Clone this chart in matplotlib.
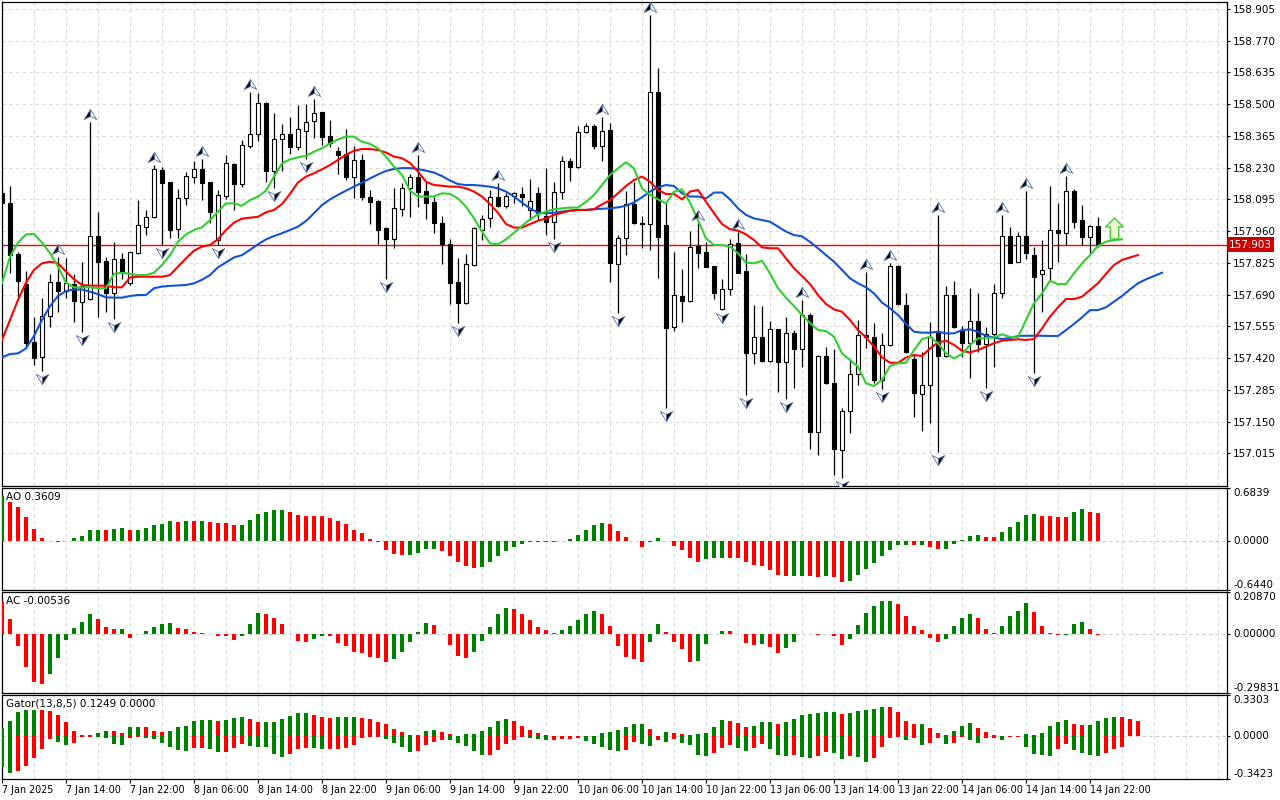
# USDJPY H1 z Alligatorem, fraktalami oraz AO, AC i Gator pod spodem
import numpy as np
import matplotlib
matplotlib.use("Agg")
import matplotlib.pyplot as plt
from matplotlib.path import Path
from matplotlib.transforms import blended_transform_factory

plt.rcParams["font.family"] = ["DejaVu Sans"]

# Świece, 138 słupków godzinowych
opens = [
    158.124, 158.081, 157.863, 157.735, 157.490, 157.426, 157.599, 157.742, 157.707, 157.735,
    157.660, 157.670, 157.939, 157.833, 157.695, 157.841, 157.738, 157.866, 157.976, 158.019,
    158.220, 158.167, 157.968, 158.099, 158.192, 158.223, 158.167, 157.922, 158.111, 158.245,
    158.159, 158.323, 158.372, 158.503, 158.217, 158.350, 158.372, 158.319, 158.387, 158.430,
    158.465, 158.365, 158.301, 158.288, 158.192, 158.263, 158.104, 158.090, 157.975, 157.925,
    158.053, 158.142, 158.189, 158.131, 158.082, 157.993, 157.904, 157.742, 157.653, 157.816,
    157.965, 158.014, 158.104, 158.068, 158.111, 158.116, 158.050, 158.121, 158.024, 157.997,
    158.125, 158.260, 158.231, 158.383, 158.409, 158.323, 158.390, 157.819, 157.929, 158.075,
    157.993, 157.989, 158.550, 157.986, 157.554, 157.685, 157.664, 157.897, 157.870, 157.812,
    157.627, 157.712, 157.908, 157.790, 157.440, 157.511, 157.409, 157.542, 157.402, 157.525,
    157.457, 157.603, 157.104, 157.429, 157.315, 157.029, 157.195, 157.352, 157.518, 157.508,
    157.327, 157.476, 157.812, 157.646, 157.415, 157.266, 157.305, 157.535, 157.429, 157.688,
    157.535, 157.483, 157.578, 157.478, 157.521, 157.695, 157.939, 157.830, 157.939, 157.858,
    157.776, 157.805, 157.965, 157.951, 158.131, 158.007, 157.936, 157.982]
highs = [
    158.142, 158.152, 157.873, 157.792, 157.596, 157.677, 157.778, 157.851, 157.844, 157.778,
    157.830, 158.426, 158.043, 157.851, 157.914, 157.866, 157.872, 158.092, 158.050, 158.241,
    158.234, 158.168, 158.138, 158.213, 158.258, 158.265, 158.168, 158.135, 158.284, 158.251,
    158.348, 158.553, 158.546, 158.508, 158.464, 158.416, 158.444, 158.496, 158.501, 158.520,
    158.466, 158.433, 158.319, 158.393, 158.322, 158.288, 158.135, 158.091, 157.976, 158.142,
    158.166, 158.203, 158.284, 158.170, 158.107, 158.024, 157.925, 157.844, 157.863, 157.979,
    158.029, 158.135, 158.163, 158.121, 158.125, 158.146, 158.182, 158.146, 158.227, 158.167,
    158.280, 158.270, 158.407, 158.421, 158.416, 158.447, 158.421, 157.943, 158.132, 158.170,
    158.024, 158.879, 158.652, 158.078, 157.870, 157.797, 157.960, 157.993, 157.915, 157.813,
    157.755, 157.925, 157.955, 157.861, 157.646, 157.641, 157.578, 157.543, 157.596, 157.539,
    157.667, 157.613, 157.431, 157.469, 157.457, 157.206, 157.412, 157.582, 157.788, 157.571,
    157.525, 157.823, 157.814, 157.698, 157.437, 157.447, 157.575, 158.029, 157.727, 157.748,
    157.556, 157.717, 157.695, 157.551, 157.734, 158.029, 157.979, 157.958, 158.132, 157.891,
    157.922, 158.153, 158.078, 158.196, 158.139, 158.071, 157.986, 158.021]
lows = [
    158.075, 157.783, 157.678, 157.469, 157.391, 157.366, 157.554, 157.617, 157.674, 157.575,
    157.529, 157.667, 157.596, 157.617, 157.585, 157.755, 157.731, 157.863, 157.943, 158.017,
    157.901, 157.929, 157.929, 158.071, 158.166, 158.092, 157.993, 157.901, 158.095, 158.050,
    158.146, 158.312, 158.345, 158.170, 158.142, 158.217, 158.288, 158.305, 158.265, 158.355,
    158.326, 158.319, 158.203, 158.177, 158.099, 158.092, 157.990, 157.904, 157.755, 157.887,
    158.024, 158.021, 158.061, 158.010, 157.953, 157.819, 157.650, 157.571, 157.652, 157.813,
    157.922, 157.979, 158.061, 158.057, 158.078, 158.067, 158.007, 158.007, 157.943, 157.925,
    158.095, 158.175, 158.227, 158.376, 158.308, 158.258, 157.745, 157.610, 157.858, 157.990,
    157.887, 157.880, 157.759, 157.206, 157.535, 157.575, 157.660, 157.805, 157.806, 157.670,
    157.624, 157.688, 157.781, 157.263, 157.393, 157.405, 157.405, 157.277, 157.244, 157.291,
    157.383, 157.032, 157.008, 157.310, 156.923, 156.908, 157.100, 157.305, 157.461, 157.315,
    157.287, 157.473, 157.646, 157.440, 157.171, 157.111, 157.145, 157.022, 157.426, 157.547,
    157.423, 157.334, 157.447, 157.294, 157.383, 157.677, 157.823, 157.827, 157.840, 157.355,
    157.617, 157.752, 157.830, 157.901, 157.972, 157.901, 157.866, 157.894]
closes = [
    158.078, 157.858, 157.749, 157.486, 157.419, 157.599, 157.742, 157.707, 157.738, 157.664,
    157.727, 157.939, 157.830, 157.695, 157.841, 157.788, 157.870, 157.985, 158.019, 158.223,
    158.166, 157.965, 158.099, 158.194, 158.223, 158.166, 158.043, 158.114, 158.248, 158.159,
    158.326, 158.372, 158.503, 158.217, 158.350, 158.372, 158.319, 158.393, 158.426, 158.464,
    158.359, 158.333, 158.284, 158.189, 158.263, 158.107, 158.085, 157.965, 157.925, 158.057,
    158.142, 158.189, 158.128, 158.078, 157.993, 157.904, 157.741, 157.653, 157.819, 157.972,
    158.010, 158.104, 158.068, 158.111, 158.121, 158.104, 158.090, 158.036, 158.000, 158.125,
    158.260, 158.231, 158.380, 158.409, 158.323, 158.387, 157.823, 157.929, 158.075, 157.993,
    157.990, 158.550, 157.936, 157.549, 157.688, 157.664, 157.894, 157.868, 157.809, 157.698,
    157.712, 157.905, 157.783, 157.440, 157.511, 157.409, 157.542, 157.402, 157.525, 157.457,
    157.603, 157.104, 157.429, 157.313, 157.032, 157.195, 157.352, 157.518, 157.511, 157.327,
    157.476, 157.812, 157.649, 157.447, 157.273, 157.305, 157.511, 157.429, 157.688, 157.554,
    157.483, 157.578, 157.478, 157.521, 157.695, 157.939, 157.826, 157.939, 157.868, 157.766,
    157.795, 157.965, 157.951, 158.131, 158.000, 157.936, 157.982, 157.903]

# Alligator (linie przesunięte w przód o 8 / 5 / 3 słupki)
jaw = [
    157.423, 157.437, 157.440, 157.461, 157.514, 157.582, 157.641, 157.684, 157.705, 157.712,
    157.712, 157.702, 157.692, 157.678, 157.677, 157.677, 157.684, 157.688, 157.688, 157.717,
    157.724, 157.727, 157.729, 157.731, 157.738, 157.753, 157.773, 157.806, 157.827, 157.848,
    157.858, 157.880, 157.904, 157.925, 157.939, 157.951, 157.965, 157.979, 158.003, 158.036,
    158.071, 158.095, 158.114, 158.132, 158.149, 158.166, 158.184, 158.201, 158.216, 158.224,
    158.228, 158.228, 158.224, 158.217, 158.209, 158.194, 158.175, 158.160, 158.156, 158.156,
    158.153, 158.149, 158.142, 158.128, 158.107, 158.081, 158.057, 158.038, 158.036, 158.038,
    158.043, 158.047, 158.050, 158.050, 158.053, 158.055, 158.057, 158.061, 158.068, 158.082,
    158.104, 158.128, 158.146, 158.156, 158.152, 158.121, 158.107, 158.107, 158.099, 158.124,
    158.124, 158.095, 158.057, 158.029, 158.014, 158.007, 158.000, 157.979, 157.958, 157.943,
    157.938, 157.914, 157.887, 157.858, 157.830, 157.795, 157.759, 157.738, 157.721, 157.695,
    157.656, 157.632, 157.603, 157.565, 157.532, 157.528, 157.528, 157.532, 157.525, 157.525,
    157.539, 157.542, 157.532, 157.514, 157.507, 157.501, 157.505, 157.514, 157.515, 157.515,
    157.515, 157.514, 157.514, 157.539, 157.565, 157.593, 157.624, 157.624, 157.636, 157.660,
    157.684, 157.712, 157.738, 157.755, 157.769, 157.783]
teeth = [
    157.497, 157.582, 157.667, 157.741, 157.795, 157.823, 157.830, 157.823, 157.788, 157.755,
    157.731, 157.728, 157.728, 157.728, 157.721, 157.721, 157.763, 157.766, 157.766, 157.766,
    157.766, 157.773, 157.809, 157.844, 157.877, 157.894, 157.901, 157.925, 157.965, 157.996,
    158.013, 158.017, 158.021, 158.040, 158.050, 158.075, 158.118, 158.167, 158.192, 158.206,
    158.223, 158.241, 158.263, 158.284, 158.302, 158.309, 158.309, 158.305, 158.294, 158.277,
    158.270, 158.250, 158.213, 158.170, 158.156, 158.153, 158.149, 158.149, 158.142, 158.128,
    158.107, 158.075, 158.038, 157.990, 157.975, 157.975, 157.990, 158.004, 158.014, 158.029,
    158.038, 158.047, 158.050, 158.050, 158.053, 158.074, 158.091, 158.121, 158.152, 158.177,
    158.192, 158.170, 158.135, 158.118, 158.118, 158.095, 158.128, 158.135, 158.085, 158.036,
    157.990, 157.968, 157.962, 157.946, 157.922, 157.891, 157.887, 157.887, 157.844, 157.802,
    157.769, 157.735, 157.688, 157.650, 157.627, 157.617, 157.582, 157.539, 157.508, 157.469,
    157.423, 157.400, 157.400, 157.422, 157.433, 157.429, 157.461, 157.486, 157.494, 157.476,
    157.451, 157.444, 157.454, 157.469, 157.483, 157.494, 157.497, 157.500, 157.497, 157.501,
    157.546, 157.596, 157.636, 157.671, 157.671, 157.681, 157.710, 157.738, 157.778, 157.816,
    157.837, 157.848, 157.858]
lips = [
    157.738, 157.851, 157.911, 157.946, 157.948, 157.911, 157.866, 157.809, 157.741, 157.721,
    157.721, 157.721, 157.717, 157.717, 157.778, 157.783, 157.778, 157.773, 157.773, 157.783,
    157.816, 157.858, 157.915, 157.946, 157.965, 157.976, 158.007, 158.043, 158.078, 158.078,
    158.068, 158.092, 158.107, 158.132, 158.192, 158.248, 158.265, 158.274, 158.280, 158.298,
    158.312, 158.333, 158.350, 158.362, 158.362, 158.340, 158.331, 158.312, 158.277, 158.234,
    158.199, 158.132, 158.107, 158.107, 158.107, 158.121, 158.118, 158.099, 158.064, 158.014,
    157.958, 157.908, 157.904, 157.925, 157.953, 157.982, 158.010, 158.031, 158.043, 158.053,
    158.057, 158.060, 158.060, 158.085, 158.114, 158.156, 158.199, 158.227, 158.253, 158.227,
    158.142, 158.114, 158.095, 158.078, 158.128, 158.138, 158.081, 158.007, 157.929, 157.901,
    157.901, 157.894, 157.866, 157.826, 157.823, 157.834, 157.780, 157.717, 157.677, 157.641,
    157.603, 157.569, 157.539, 157.535, 157.511, 157.440, 157.412, 157.383, 157.313, 157.301,
    157.327, 157.386, 157.398, 157.400, 157.454, 157.500, 157.511, 157.483, 157.440, 157.419,
    157.437, 157.476, 157.504, 157.504, 157.508, 157.521, 157.510, 157.508, 157.582, 157.653,
    157.695, 157.749, 157.734, 157.735, 157.780, 157.823, 157.858, 157.897, 157.915, 157.922,
    157.925]

# Fraktale (numery słupków)
fractal_up = [7, 11, 19, 25, 31, 39, 52, 62, 75, 81, 87, 92, 100, 108, 111, 117, 125, 128, 133]
fractal_down = [5, 10, 14, 20, 27, 34, 38, 48, 57, 69, 77, 83, 90, 93, 98, 105, 110, 117, 123, 129]

# Sygnał kupna (strzałka) i bieżąca cena
signal_bar = 139
signal_price = 157.972
last_price = 157.903

# Awesome Oscillator
ao = [
    0.575, 0.496, 0.443, 0.311, 0.154, 0.035, -0.004, -0.022, -0.009, 0.035,
    0.061, 0.132, 0.140, 0.138, 0.154, 0.167, 0.132, 0.140, 0.167, 0.197,
    0.211, 0.250, 0.237, 0.250, 0.249, 0.251, 0.237, 0.224, 0.223, 0.197,
    0.198, 0.263, 0.342, 0.368, 0.395, 0.396, 0.368, 0.329, 0.316, 0.315,
    0.314, 0.289, 0.250, 0.211, 0.140, 0.101, 0.022, -0.018, -0.123, -0.171,
    -0.189, -0.187, -0.162, -0.110, -0.108, -0.136, -0.202, -0.281, -0.333, -0.360,
    -0.346, -0.281, -0.202, -0.136, -0.083, -0.039, -0.022, -0.018, -0.016, -0.020,
    -0.009, 0.022, 0.075, 0.140, 0.206, 0.232, 0.219, 0.127, 0.048, -0.004,
    -0.083, -0.022, 0.035, -0.009, -0.066, -0.123, -0.228, -0.281, -0.241, -0.228,
    -0.226, -0.228, -0.230, -0.281, -0.320, -0.333, -0.386, -0.452, -0.465, -0.463,
    -0.462, -0.464, -0.478, -0.465, -0.478, -0.544, -0.531, -0.452, -0.373, -0.294,
    -0.202, -0.123, -0.057, -0.053, -0.054, -0.053, -0.083, -0.110, -0.108, -0.039,
    0.005, 0.061, 0.075, 0.048, 0.047, 0.114, 0.180, 0.246, 0.338, 0.351,
    0.325, 0.324, 0.311, 0.310, 0.377, 0.404, 0.377, 0.3609]
ao_kolory = """grrrrrrrgg gggrggrggg ggrgrgrrrr ggggggrrrr rrrrrrrrrr rggggrrrrr
               gggggggggr ggggggrrrr rggrrrrrgg grrrrrrrrg grrgrrgggg ggggrgrrgg
               gggrrggggg rrrrggrr"""

# Accelerator Oscillator
ac = [
    0.160, 0.071, -0.061, -0.169, -0.245, -0.253, -0.202, -0.121, -0.030, 0.029,
    0.059, 0.096, 0.074, 0.034, 0.024, 0.024, -0.020, -0.003, 0.013, 0.034,
    0.046, 0.054, 0.029, 0.024, 0.007, 0.005, -0.003, -0.013, -0.014, -0.030,
    -0.013, 0.046, 0.101, 0.096, 0.079, 0.046, -0.003, -0.037, -0.040, -0.027,
    -0.013, -0.014, -0.047, -0.062, -0.091, -0.096, -0.118, -0.121, -0.142, -0.128,
    -0.091, -0.040, 0.007, 0.054, 0.044, -0.003, -0.056, -0.113, -0.121, -0.091,
    -0.035, 0.034, 0.099, 0.130, 0.125, 0.099, 0.069, 0.034, 0.019, 0.005,
    0.019, 0.039, 0.069, 0.099, 0.115, 0.099, 0.039, -0.061, -0.118, -0.128,
    -0.142, -0.040, 0.049, 0.008, -0.040, -0.078, -0.142, -0.137, -0.051, -0.003,
    0.013, 0.013, -0.003, -0.046, -0.056, -0.051, -0.067, -0.096, -0.071, -0.040,
    -0.003, -0.002, -0.008, -0.003, -0.013, -0.056, -0.025, 0.044, 0.105, 0.140,
    0.165, 0.166, 0.150, 0.089, 0.039, 0.019, -0.020, -0.040, -0.025, 0.039,
    0.079, 0.099, 0.079, 0.024, 0.001, 0.039, 0.089, 0.115, 0.155, 0.110,
    0.039, 0.003, -0.007, -0.006, 0.049, 0.059, 0.024, -0.00536]
ac_kolory = """rrrrrrgggg ggrrrgrggg ggrrrrrrrr gggrrrrrrg grrrrrrrrg ggggrrrrrg
               ggggrrrrrr gggggrrrrr rggrrrrggg grrrrgrrgg ggrgrrgggg ggrrrrrrgg
               ggrrrggggr rrrgggrr"""

# Gator Oscillator (górny i dolny histogram)
gator_up = [
    0.070, 0.119, 0.192, 0.208, 0.208, 0.207, 0.206, 0.168, 0.111, 0.046,
    0.014, 0.013, 0.030, 0.046, 0.045, 0.030, 0.073, 0.078, 0.073, 0.046,
    0.038, 0.046, 0.073, 0.086, 0.119, 0.127, 0.128, 0.119, 0.127, 0.143,
    0.151, 0.135, 0.111, 0.112, 0.113, 0.135, 0.159, 0.184, 0.185, 0.168,
    0.151, 0.143, 0.151, 0.152, 0.153, 0.143, 0.135, 0.111, 0.095, 0.062,
    0.038, 0.008, 0.007, 0.046, 0.054, 0.038, 0.022, 0.005, 0.016, 0.017,
    0.046, 0.078, 0.119, 0.135, 0.119, 0.086, 0.054, 0.030, 0.014, 0.005,
    0.002, 0.001, 0.001, 0.002, 0.005, 0.030, 0.031, 0.054, 0.078, 0.095,
    0.096, 0.062, 0.001, 0.038, 0.030, 0.022, 0.014, 0.022, 0.023, 0.078,
    0.127, 0.119, 0.103, 0.078, 0.086, 0.111, 0.112, 0.095, 0.111, 0.135,
    0.168, 0.176, 0.184, 0.192, 0.193, 0.176, 0.184, 0.200, 0.208, 0.216,
    0.232, 0.231, 0.192, 0.119, 0.095, 0.096, 0.070, 0.030, 0.014, 0.046,
    0.086, 0.103, 0.070, 0.038, 0.008, 0.001, 0.005, 0.006, 0.016, 0.008,
    0.024, 0.081, 0.114, 0.130, 0.097, 0.089, 0.090, 0.122, 0.146, 0.154,
    0.153, 0.138, 0.1249]
gator_up_kolory = """gggggrrrrr rrggrrggrr rggggggrgg grrggggggr rrgggrrrrr rrrggrrrgg
                     ggggrrrrrr rrrggggggg grrgrrrggg grrrgggrgg gggggrgggg grrrrgrrrg
                     ggrrrrgggr ggggrrgggg rrr"""
gator_dn = [
    -0.249, -0.295, -0.276, -0.235, -0.178, -0.105, -0.024, -0.043, -0.073, -0.051,
    -0.005, -0.004, -0.008, -0.016, -0.059, -0.073, -0.016, -0.005, -0.016, -0.024,
    -0.057, -0.089, -0.114, -0.122, -0.097, -0.096, -0.105, -0.130, -0.129, -0.097,
    -0.065, -0.081, -0.089, -0.090, -0.146, -0.170, -0.146, -0.105, -0.097, -0.098,
    -0.105, -0.104, -0.103, -0.097, -0.073, -0.016, -0.008, -0.002, -0.024, -0.057,
    -0.089, -0.130, -0.122, -0.073, -0.049, -0.032, -0.033, -0.057, -0.081, -0.122,
    -0.154, -0.153, -0.114, -0.065, -0.032, -0.008, -0.016, -0.024, -0.032, -0.031,
    -0.024, -0.023, -0.016, -0.041, -0.065, -0.089, -0.114, -0.122, -0.114, -0.049,
    -0.065, -0.081, -0.032, -0.049, -0.024, -0.057, -0.073, -0.154, -0.162, -0.138,
    -0.097, -0.073, -0.097, -0.122, -0.097, -0.065, -0.105, -0.154, -0.162, -0.154,
    -0.170, -0.171, -0.162, -0.130, -0.138, -0.186, -0.162, -0.163, -0.203, -0.178,
    -0.089, -0.016, -0.003, -0.032, -0.016, -0.073, -0.057, -0.016, -0.065, -0.057,
    -0.008, -0.032, -0.057, -0.016, -0.015, -0.032, -0.008, -0.005, -0.089, -0.146,
    -0.154, -0.162, -0.105, -0.065, -0.114, -0.138, -0.154, -0.162, -0.138, -0.105,
    -0.089]
gator_dn_kolory = """ggrrrrrggr rrggggrrgg ggggrrggrr rgggggrrrg grrrrrrrgg ggrrrrgggg
                     grrrrrgggr rrrgggggrr ggrgrggggr rrggrrgggr ggrrggrggr rrrgrgrrgr
                     rggrrgrrgg ggrrggggrr r"""

# Skale osi
price_ticks = [157.015, 157.150, 157.285, 157.420, 157.555, 157.690, 157.825, 157.960,
               158.095, 158.230, 158.365, 158.500, 158.635, 158.770, 158.905]
time_bars = [0, 8, 16, 24, 32, 40, 48, 56, 64, 72, 80, 88, 96, 104, 112, 120, 128, 136]
time_labels = ["7 Jan 2025", "7 Jan 14:00", "7 Jan 22:00", "8 Jan 06:00", "8 Jan 14:00",
               "8 Jan 22:00", "9 Jan 06:00", "9 Jan 14:00", "9 Jan 22:00", "10 Jan 06:00",
               "10 Jan 14:00", "10 Jan 22:00", "13 Jan 06:00", "13 Jan 14:00", "13 Jan 22:00",
               "14 Jan 06:00", "14 Jan 14:00", "14 Jan 22:00"]

ZIELONY = "#008000"
CZERWONY = "#ff0000"
SIATKA = "#d9d9d9"
FS = 7.5


def kolory(kody):
    kody = "".join(kody.split())
    return [ZIELONY if k == "g" else CZERWONY for k in kody]


W, H = 1280, 800
fig = plt.figure(figsize=(W / 100, H / 100), dpi=100)


def panel(gora, dol):
    return fig.add_axes([2 / W, 1 - dol / H, 1225 / W, (dol - gora) / H])


ax = panel(2, 485.5)
ax_ao = panel(488, 590)
ax_ac = panel(592, 693)
ax_gt = panel(695, 779)

for a in (ax, ax_ao, ax_ac, ax_gt):
    a.set_xlim(0, 153.125)
    for g in range(4, 153, 4):
        a.axvline(g, color=SIATKA, lw=0.8, ls=(0, (3, 3)), zorder=0)
    for s in a.spines.values():
        s.set_linewidth(0.9)
        s.set_color("black")
    a.tick_params(axis="x", bottom=False, labelbottom=False)
    a.yaxis.tick_right()
    a.tick_params(axis="y", direction="out", length=2.2, width=0.8, pad=2.2, labelsize=FS)

# --- główny wykres ---
o = np.array(opens)
c = np.array(closes)
x = np.arange(len(c))
for p in price_ticks:
    ax.axhline(p, color=SIATKA, lw=0.8, ls=(0, (3, 3)), zorder=0)
ax.axhline(last_price, color="#ff0000", lw=1.0, zorder=1)

ax.vlines(x, lows, highs, color="black", lw=0.9, zorder=3)
wzrost = c >= o
ax.bar(x, np.maximum(np.abs(c - o), 0.0008), bottom=np.minimum(o, c), width=0.62,
       color=np.where(wzrost, "white", "black"), edgecolor="black", linewidth=0.8, zorder=4)

ax.plot(np.arange(len(jaw)), jaw, color="#1252d4", lw=1.5, zorder=5)
ax.plot(np.arange(len(teeth)), teeth, color="#ff0000", lw=1.5, zorder=5)
ax.plot(np.arange(len(lips)), lips, color="#32cd32", lw=1.5, zorder=5)


def polowa(znak_x, znak_y):
    # połówka grotu strzałki fraktala; znak_y=1 grot w górę, -1 w dół
    return Path([(0, 0.8 * znak_y), (znak_x, -0.8 * znak_y), (0, -0.3 * znak_y),
                 (0, 0.8 * znak_y)],
                [Path.MOVETO, Path.LINETO, Path.LINETO, Path.CLOSEPOLY])


odst = 0.034
hi = np.array(highs)
lo = np.array(lows)
fr_y_up = hi[fractal_up] + odst
fr_y_dn = lo[fractal_down] - odst
for sciezka, xs, ys, kolor in [(polowa(-1, 1), fractal_up, fr_y_up, "black"),
                               (polowa(1, 1), fractal_up, fr_y_up, "white"),
                               (polowa(-1, -1), fractal_down, fr_y_dn, "white"),
                               (polowa(1, -1), fractal_down, fr_y_dn, "black")]:
    ax.plot(xs, ys, ls="none", marker=sciezka, ms=9, mfc=kolor, mec="#5a6e9a",
            mew=0.6, zorder=6)

strzalka = Path([(0, 1), (0.85, 0.15), (0.4, 0.15), (0.4, -1), (-0.4, -1), (-0.4, 0.15),
                 (-0.85, 0.15), (0, 1)],
                [Path.MOVETO] + [Path.LINETO] * 6 + [Path.CLOSEPOLY])
ax.plot([signal_bar], [signal_price], ls="none", marker=strzalka, ms=15,
        mfc="#eefcd8", mec="#44cc33", mew=1.0, zorder=6)

ax.set_ylim(156.878, 158.9345)
ax.set_yticks(price_ticks)
ax.set_yticklabels([f"{p:.3f}" for p in price_ticks])
tr = blended_transform_factory(ax.transAxes, ax.transData)
ax.text(1.0016, last_price, f"{last_price:.3f}", transform=tr, ha="left", va="center",
        fontsize=FS, color="white",
        bbox=dict(boxstyle="square,pad=0.2", fc="#c80000", ec="none"))


# --- wskaźniki ---
def wskaznik(a, wartosci, kody, gora, dol, fmt, tytul):
    a.bar(np.arange(len(wartosci)), wartosci, width=0.5, color=kolory(kody), zorder=3)
    a.axhline(0, color="#c8c8c8", lw=0.8, ls=(0, (3, 3)), zorder=1)
    a.set_ylim(dol, gora)
    a.set_yticks([gora, 0, dol])
    a.set_yticklabels([])
    t = blended_transform_factory(a.transAxes, a.transData)
    a.text(1.0049, gora, fmt.format(gora), transform=t, ha="left", va="top", fontsize=FS)
    a.text(1.0049, 0, fmt.format(0), transform=t, ha="left", va="center", fontsize=FS)
    a.text(1.0049, dol, fmt.format(dol), transform=t, ha="left", va="bottom", fontsize=FS)
    if tytul:
        a.text(0.0035, 0.96, tytul, transform=a.transAxes, ha="left", va="top", fontsize=FS)


wskaznik(ax_ao, ao, ao_kolory, 0.6839, -0.6440, "{:.4f}", "AO 0.3609")
wskaznik(ax_ac, ac, ac_kolory, 0.20870, -0.29831, "{:.5f}", "AC -0.00536")
wskaznik(ax_gt, gator_up, gator_up_kolory, 0.3303, -0.3423, "{:.4f}",
         "Gator(13,8,5) 0.1249 0.0000")
ax_gt.bar(np.arange(len(gator_dn)), gator_dn, width=0.5, color=kolory(gator_dn_kolory), zorder=3)

ax_gt.set_xticks(time_bars)
ax_gt.set_xticklabels(time_labels)
ax_gt.tick_params(axis="x", bottom=True, labelbottom=True, direction="out", length=3,
                  width=0.8, pad=1.5, labelsize=6.9)
for lab in ax_gt.get_xticklabels():
    lab.set_horizontalalignment("left")

fig.savefig("out.png", dpi=100)
